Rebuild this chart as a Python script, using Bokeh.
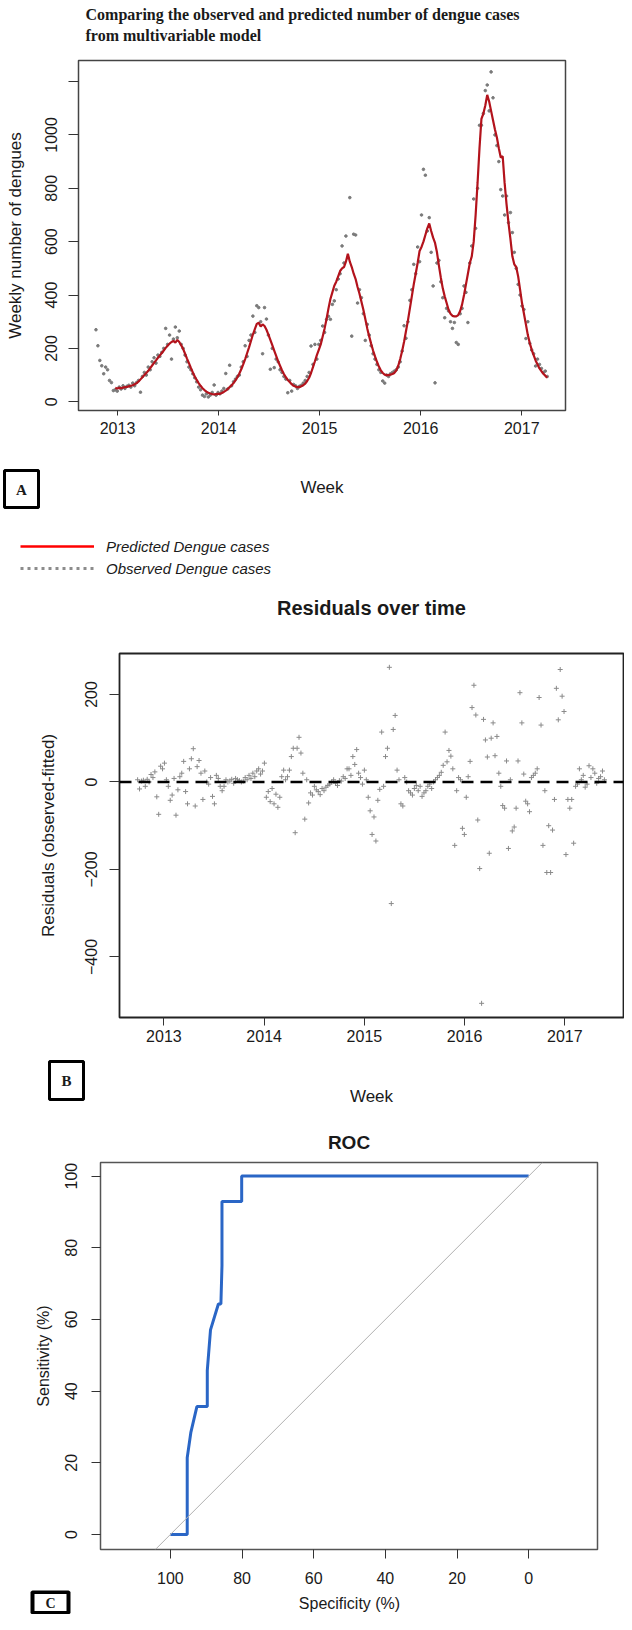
import numpy as np
import pandas as pd
from bokeh.plotting import figure
from bokeh.models import (Range1d, FixedTicker, Label, Legend, LegendItem, Span, Slope)
from bokeh.layouts import column
from bokeh.embed import file_html
from bokeh.resources import INLINE

# ---------------- DATA ----------------
obs_start = "2012-10-15"      # first observed week
pred_offset = 10              # predicted series starts 10 weeks later
observed = [
    270, 210, 155, 135, 105, 130, 120, 80, 72, 42,
    45, 40, 55, 48, 60, 50, 58, 62, 55, 70, 60, 72, 80,
    36, 95, 110, 100, 130, 120, 150, 165, 145, 175, 170, 185, 200,
    275, 215, 250, 160, 235, 280, 240, 265, 215, 200, 175, 150, 130,
    120, 105, 90, 75, 55, 45, 25, 20, 30, 18, 25, 35, 63,
    25, 35, 30, 40, 50, 106, 48, 137, 60, 75, 85, 95, 100,
    130, 150, 210, 170, 230, 250, 321, 260, 360, 353, 300, 180, 353,
    310, 250, 122, 200, 128, 160, 150, 120, 110, 95, 85, 34, 80,
    40, 65, 60, 50, 58, 62, 70, 80, 95, 110, 209, 140, 215,
    160, 215, 230, 284, 260, 309, 320, 309, 365, 378, 420, 460, 480,
    584, 520, 621, 540, 765, 246, 628, 625, 370, 420, 390, 330, 230,
    290, 250, 210, 180, 160, 140, 120, 110, 78, 70, 100, 95, 105,
    110, 115, 120, 130, 150, 190, 285, 238, 300, 380, 420, 515, 480,
    580, 525, 700, 871, 849, 640, 690, 560, 434, 71, 520, 530, 450,
    390, 315, 350, 340, 300, 275, 297, 222, 215, 330, 350, 434, 410,
    297, 520, 584, 760, 650, 800, 1036, 1036, 1080, 1166, 1187, 1090, 1236,
    1139, 1000, 960, 900, 795, 771, 700, 771, 671, 709, 634, 560, 500,
    440, 400, 359, 346, 237, 300, 219, 194, 180, 134, 160, 140, 125, 110, 115, 95,
]
predicted = [
    52, 50, 52, 51, 53, 55, 56, 58, 60, 62, 66, 70, 76,
    84, 92, 100, 108, 116, 126, 136, 146, 155, 165, 174, 183, 192,
    202, 210, 218, 224, 228, 222, 232, 224, 212, 198, 180, 162, 145,
    127, 110, 95, 82, 70, 60, 51, 44, 38, 34, 31, 29, 28,
    29, 30, 30, 33, 37, 42, 48, 55, 62, 70, 80, 92, 106,
    122, 140, 160, 182, 204, 228, 252, 272, 292, 296, 282, 290, 284,
    270, 252, 232, 212, 192, 172, 152, 135, 118, 104, 92, 82, 74,
    66, 60, 57, 55, 55, 58, 62, 68, 78, 90, 108, 130, 152,
    175, 195, 215, 245, 275, 310, 350, 385, 410, 435, 450, 470, 490,
    500, 505, 525, 555, 525, 505, 480, 460, 430, 405, 375, 345, 310,
    275, 245, 218, 192, 170, 150, 132, 118, 108, 102, 100, 100, 102,
    104, 108, 118, 135, 160, 190, 225, 265, 305, 350, 395, 440, 480,
    520, 565, 580, 600, 625, 650, 668, 640, 615, 595, 560, 510, 465,
    425, 395, 370, 345, 330, 322, 320, 320, 325, 340, 365, 400, 440,
    480, 520, 545, 600, 700, 820, 950, 1060, 1080, 1110, 1150, 1125, 1090,
    1055, 1020, 990, 950, 915, 920, 820, 740, 670, 610, 545, 515, 505,
    470, 420, 370, 330, 290, 250, 220, 195, 175, 155, 140, 125, 115, 105, 98, 90,
]
resid_start = "2012-09-27"
residuals = [
    5, -16, 2, 4, -10, 6, 0, 17, 10, 23, -34, -74, 36,
    30, 43, 5, -10, -42, -30, 8, -76, -18, 12, 20, 47, -22,
    -50, 30, 53, 76, -55, 35, 49, 20, -40, 25, 0, -5, 10,
    -33, -50, 15, 8, -10, -20, -10, 5, 0, 2, 6, -3, 8,
    5, 3, 0, 2, 10, 5, 15, 8, 20, 12, 25, 30, 18,
    25, 43, -35, -22, -45, -15, -50, -28, -58, -35, 12, 27, 5,
    12, 27, 58, 77, -116, 77, 102, 66, 20, -85, 5, -48, -25,
    -30, -10, -18, -22, -29, -15, -20, -12, -8, -5, 0, 5, -3,
    -8, 3, 2, 12, 8, 30, 30, 15, 58, 40, 74, 20, 10,
    -5, 27, 5, -35, -66, -120, -80, -135, -42, -17, 114, -10, 58,
    77, 262, -278, 120, 152, 27, 5, -50, -55, 10, 0, -20, -25,
    -30, -15, -8, -20, -10, -33, -25, -20, -10, -5, -15, 0, 5,
    10, 15, 22, 38, 114, 46, 72, 59, 30, -145, -20, 10, 5,
    -106, -120, -35, 12, 47, 170, 221, 153, -87, -198, -506, 143, 96,
    57, -163, 100, 135, 60, 104, 20, -10, -54, -60, 48, -152, 5,
    -112, -103, -60, 48, 204, 135, 18, -44, -50, -68, 10, 15, 20,
    30, 193, 130, -145, -20, -207, -100, -207, -110, -40, 214, 142, 257,
    196, 161, -166, -40, -60, -40, -140, -10, -5, 30, 5, 15, -12,
    -5, 37, 10, 30, 20, -3, 8, 12, 25, 5,
]
specificity = [100, 95.3, 95.3, 94.3, 92.6, 89.7, 89.7, 88.8, 86.6, 85.9, 85.6, 85.6, 80.1, 80.1, 0]
sensitivity = [0, 0, 21.4, 28.4, 35.7, 35.7, 45.7, 57.1, 64.3, 64.3, 75.0, 92.9, 92.9, 100, 100]

year_ticks = [2013, 2014, 2015, 2016, 2017]
cases_ticks = [0, 200, 400, 600, 800, 1000, 1200]
resid_ticks = [-400, -200, 0, 200]
spec_ticks = [100, 80, 60, 40, 20, 0]
sens_ticks = [0, 20, 40, 60, 80, 100]


def decimal_year(dates):
    days = np.where(dates.is_leap_year, 366.0, 365.0)
    return np.asarray(dates.year + (dates.dayofyear - 1) / days, dtype=float)


n_obs = max(len(observed), pred_offset + len(predicted))
obs_t = decimal_year(pd.date_range(obs_start, periods=n_obs, freq="7D"))
pred_t = obs_t[pred_offset:pred_offset + len(predicted)]
res_t = decimal_year(pd.date_range(resid_start, periods=len(residuals), freq="7D"))

SANS = "Liberation Sans"
SERIF = "Liberation Serif"
TXT = "#1a1a1a"
W = 624


def no_align(p):
    try:
        p.frame_align = False
    except AttributeError:
        pass


def main_fig(fw, fh, xr, yr, bl, bt, br, bb):
    p = figure(frame_width=fw, frame_height=fh,
               x_range=Range1d(*xr), y_range=Range1d(*yr),
               min_border_left=bl, min_border_top=bt,
               min_border_right=br, min_border_bottom=bb,
               output_backend="svg", toolbar_location=None, tools="",
               background_fill_color="white", border_fill_color="white")
    p.xgrid.visible = False
    p.ygrid.visible = False
    no_align(p)
    return p


def strip(top, h):
    # annotation strip; its coordinates are page pixels (y grows downward)
    p = figure(frame_width=W, frame_height=h,
               x_range=Range1d(8, 8 + W), y_range=Range1d(top + h, top),
               min_border_left=0, min_border_right=0, min_border_top=0,
               min_border_bottom=0, x_axis_type=None, y_axis_type=None,
               output_backend="svg", toolbar_location=None, tools="",
               outline_line_color=None, background_fill_color="white",
               border_fill_color="white")
    p.xgrid.visible = False
    p.ygrid.visible = False
    no_align(p)
    return p


def style_axes(p, xt, yt, xout, yout, xstand, ystand, ylabel, ylsize, ylstand):
    p.xaxis.ticker = FixedTicker(ticks=xt)
    p.yaxis.ticker = FixedTicker(ticks=yt)
    for ax, out, st in ((p.xaxis[0], xout, xstand), (p.yaxis[0], yout, ystand)):
        ax.axis_line_color = None
        ax.major_tick_in = 0
        ax.major_tick_out = out
        ax.major_tick_line_color = "#333333"
        ax.major_tick_line_width = 1
        ax.minor_tick_line_color = None
        ax.major_label_standoff = st
        ax.major_label_text_font = SANS
        ax.major_label_text_font_size = "16px"
        ax.major_label_text_color = TXT
    p.yaxis.major_label_orientation = "vertical"
    ya = p.yaxis[0]
    ya.axis_label = ylabel
    ya.axis_label_text_font = SANS
    ya.axis_label_text_font_size = f"{ylsize}px"
    ya.axis_label_text_font_style = "normal"
    ya.axis_label_text_color = TXT
    ya.axis_label_standoff = ylstand


def text(p, x, y, s, size, style="normal", font=SANS, align="center"):
    p.add_layout(Label(x=x, y=y, text=s, text_font=font,
                       text_font_size=f"{size}px", text_font_style=style,
                       text_align=align, text_baseline="middle",
                       text_color=TXT))


def boxed(p, left, right, top, bottom, s, lw, size=15):
    p.quad(left=[left], right=[right], top=[top], bottom=[bottom],
           fill_color="white", line_color="black", line_width=lw)
    text(p, (left + right) / 2, (top + bottom) / 2 + 0.5, s, size,
         style="bold", font=SERIF)


# ---------------- Panel A ----------------
sA_top = strip(8, 52)
text(sA_top, 93, 22, "Comparing the observed and predicted number of dengue cases",
     16, style="bold", font=SERIF, align="left")
text(sA_top, 93, 43, "from multivariable model", 16, style="bold",
     font=SERIF, align="left")

pA = main_fig(487, 350, (2012.614, 2017.433), (-32.6, 1278.75), 78, 8, 59, 37)
pA.outline_line_color = "#444444"
pA.outline_line_width = 1.5
style_axes(pA, year_ticks, cases_ticks, 5, 10, 6, 11,
           "Weekly number of dengues", 17, 18)
pA.yaxis.major_label_overrides = {1200: ""}
pA.scatter(obs_t[:len(observed)], observed, marker="circle", size=2.6,
           fill_color="#7a7a7a", line_color="#7a7a7a")
pA.line(pred_t, predicted, line_color="#b3131c", line_width=2.2)

sA_bot = strip(455, 141)
text(sA_bot, 329.5, 495, "Week", 17)
boxed(sA_bot, 12, 46, 478, 515, "A", 3)
# legend-only renderers (one NaN point each, nothing is drawn in the strip)
leg_pred = sA_bot.line(x=[np.nan, np.nan], y=[np.nan, np.nan],
                       line_color="#ff0000", line_width=2.5)
leg_obs = sA_bot.line(x=[np.nan, np.nan], y=[np.nan, np.nan],
                      line_color="#8c8c8c", line_width=3, line_dash="3 4")
legend = Legend(items=[LegendItem(label="Predicted Dengue cases", renderers=[leg_pred]),
                       LegendItem(label="Observed Dengue cases", renderers=[leg_obs])],
                location=(20, 10), glyph_width=74, glyph_height=20,
                label_height=20, label_standoff=12, spacing=2, padding=0,
                margin=0, border_line_color=None, background_fill_alpha=0,
                label_text_font=SANS, label_text_font_style="italic",
                label_text_font_size="15px", label_text_color=TXT)
sA_bot.add_layout(legend)

# ---------------- Panel B ----------------
sB_top = strip(596, 54)
text(sB_top, 379, 615, "Residuals over time", 20, style="bold")

pB = main_fig(504, 364, (2012.557, 2017.585), (-538.4, 293.6), 119, 11, 1, 32)
pB.outline_line_color = "#222222"
pB.outline_line_width = 1.8
style_axes(pB, year_ticks, resid_ticks, 8, 10, 4, 12,
           "Residuals (observed-fitted)", 17, 25)
pB.scatter(res_t, residuals, marker="cross", size=5, line_color="#8a8a8a",
           line_width=1)
pB.add_layout(Span(location=0, dimension="width", line_color="black",
                   line_width=2.5, line_dash="12 7"))

sB_bot = strip(1057, 72)
text(sB_bot, 379, 1104, "Week", 17)
boxed(sB_bot, 57, 91, 1069, 1107, "B", 3)

# ---------------- Panel C ----------------
sC_top = strip(1129, 34)
text(sC_top, 356.5, 1150, "ROC", 19, style="bold")

pC = main_fig(497, 387, (119.5, -19.2), (-4.19, 103.8), 100, 7, 27, 41)
pC.outline_line_color = "#555555"
pC.outline_line_width = 1.5
style_axes(pC, spec_ticks, sens_ticks, 9, 9, 13, 14,
           "Sensitivity (%)", 16, 11)
pC.add_layout(Slope(gradient=-1, y_intercept=100, line_color="#b0b0b0",
                    line_width=1))
pC.line(specificity, sensitivity, line_color="#2a66c6", line_width=3)

sC_bot = strip(1598, 24)
text(sC_bot, 357, 1610.5, "Specificity (%)", 16)
boxed(sC_bot, 40, 76, 1599.5, 1620.5, "C", 4, 14)

layout = column(sA_top, pA, sA_bot, sB_top, pB, sB_bot, sC_top, pC, sC_bot,
                spacing=0)
open("out.html", "w").write(file_html(layout, INLINE))
